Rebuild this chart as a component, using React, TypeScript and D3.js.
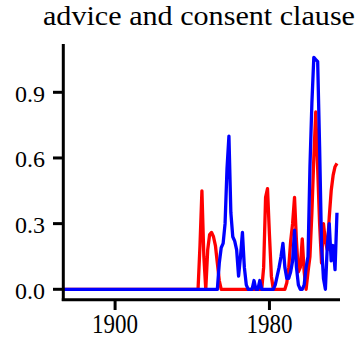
import React from "react";
import * as d3 from "d3";

const title = "advice and consent clause";
const startYear = 1873;
const redValues: number[] = [
  0, 0, 0, 0, 0, 0, 0, 0, 0, 0,
  0, 0, 0, 0, 0, 0, 0, 0, 0, 0,
  0, 0, 0, 0, 0, 0, 0, 0, 0, 0,
  0, 0, 0, 0, 0, 0, 0, 0, 0, 0,
  0, 0, 0, 0, 0, 0, 0, 0, 0, 0,
  0, 0, 0, 0, 0, 0, 0, 0, 0, 0,
  0, 0, 0, 0, 0, 0, 0, 0, 0, 0,
  // 1943
  0, 0.2, 0.45, 0.15, 0.0, 0.18, 0.25, 0.26, 0.24, 0.2, 0.12, 0.04,
  // 1955-1976
  0, 0, 0, 0, 0, 0, 0, 0, 0, 0, 0, 0, 0, 0, 0, 0, 0, 0, 0, 0, 0, 0,
  // 1977-1981
  0.1, 0.42, 0.46, 0.25, 0.06,
  // 1982-1988
  0, 0, 0, 0, 0, 0, 0,
  // 1989-2015
  0.03, 0.1, 0.22, 0.3, 0.42, 0.22, 0.08, 0.1, 0.23, 0.08,
  0, 0.08, 0.15, 0.35, 0.6, 0.81, 0.55, 0.3, 0.12, 0.3,
  0.22, 0.18, 0.33, 0.45, 0.52, 0.56, 0.575,
];
const blueValues: number[] = [
  0, 0, 0, 0, 0, 0, 0, 0, 0, 0,
  0, 0, 0, 0, 0, 0, 0, 0, 0, 0,
  0, 0, 0, 0, 0, 0, 0, 0, 0, 0,
  0, 0, 0, 0, 0, 0, 0, 0, 0, 0,
  0, 0, 0, 0, 0, 0, 0, 0, 0, 0,
  0, 0, 0, 0, 0, 0, 0, 0, 0, 0,
  0, 0, 0, 0, 0, 0, 0, 0, 0, 0,
  0, 0, 0, 0, 0, 0, 0, 0, 0, 0,
  0,
  // 1954-1975
  0.12, 0.19, 0.21, 0.3, 0.55, 0.7, 0.35, 0.24, 0.22, 0.18,
  0.06, 0.15, 0.26, 0.1, 0.02, 0, 0, 0, 0.04, 0, 0, 0.04,
  // 1976-1982
  0, 0, 0, 0, 0, 0, 0,
  // 1983-2015
  0.02, 0.06, 0.1, 0.15, 0.21, 0.1, 0.05, 0.05, 0.08, 0.13,
  0.27, 0.1, 0.02, 0, 0, 0.02, 0.1, 0.15, 0.56, 0.85,
  1.06, 1.05, 1.04, 0.65, 0.2, 0.05, 0, 0.2, 0.3, 0.13,
  0.2, 0.09, 0.35,
];
const yTicks = [0, 0.3, 0.6, 0.9];
const yTickLabels = ["0.0", "0.3", "0.6", "0.9"];
const xTicks = [1900, 1980];
const xTickLabels = ["1900", "1980"];

export default function App() {
  const x = d3.scaleLinear().domain([1873, 2016]).range([63, 338.9]);
  const y = d3.scaleLinear().domain([0, 0.9]).range([289.3, 92.3]);
  const line = d3
    .line<number>()
    .x((_, i) => x(startYear + i))
    .y((v) => y(v));
  const font = "'Liberation Serif', serif";
  return (
    <svg
      width={362}
      height={346}
      style={{ position: "absolute", left: 0, top: 0, background: "#fff" }}
    >
      <text
        x={43}
        y={25}
        fontFamily={font}
        fontSize={28}
        textLength={312}
        lengthAdjust="spacingAndGlyphs"
        fill="#000"
      >
        {title}
      </text>
      <path d={line(redValues) || ""} fill="none" stroke="#ff0000" strokeWidth={3.3} strokeLinejoin="round" />
      <path d={line(blueValues) || ""} fill="none" stroke="#0000ff" strokeWidth={3.3} strokeLinejoin="round" />
      {/* y axis */}
      <line x1={63.3} x2={63.3} y1={44} y2={301} stroke="#000" strokeWidth={3} />
      {yTicks.map((t, i) => (
        <g key={t}>
          <line x1={53} x2={63} y1={y(t)} y2={y(t)} stroke="#000" strokeWidth={3} />
          <text
            x={45}
            y={y(t) + 9.4}
            textAnchor="end"
            fontFamily={font}
            fontSize={23}
            textLength={30}
            lengthAdjust="spacingAndGlyphs"
            fill="#000"
          >
            {yTickLabels[i]}
          </text>
        </g>
      ))}
      {/* x axis */}
      <line x1={61.8} x2={340} y1={299.8} y2={299.8} stroke="#000" strokeWidth={3} />
      {xTicks.map((t, i) => (
        <g key={t}>
          <line x1={x(t)} x2={x(t)} y1={300} y2={310} stroke="#000" strokeWidth={3} />
          <text
            x={x(t) - 23}
            y={333}
            fontFamily={font}
            fontSize={27}
            textLength={46}
            lengthAdjust="spacingAndGlyphs"
            fill="#000"
          >
            {xTickLabels[i]}
          </text>
        </g>
      ))}
    </svg>
  );
}
